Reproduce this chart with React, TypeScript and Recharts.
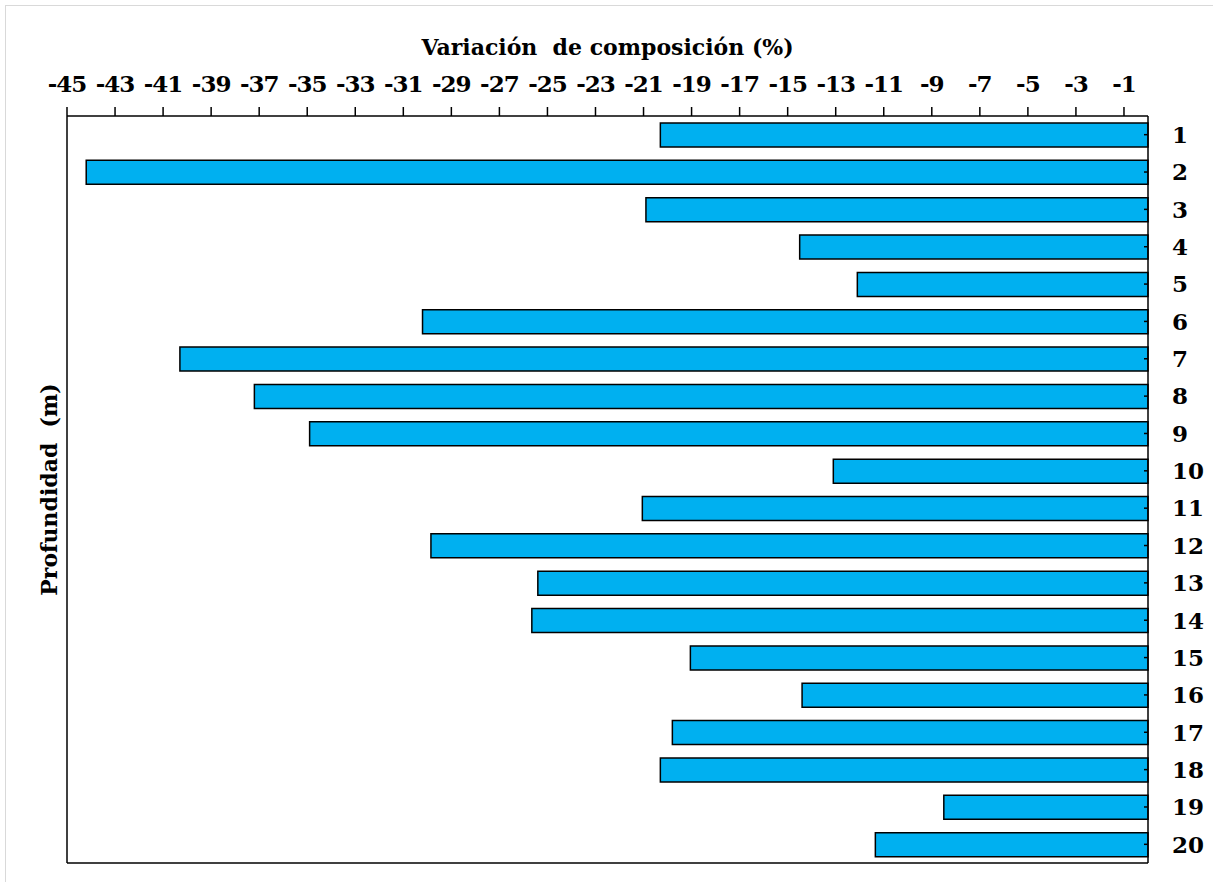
import { BarChart, Bar, XAxis, YAxis, Label } from "recharts"

// depth samples (m), top to bottom
const depths = ["1", "2", "3", "4", "5", "6", "7", "8", "9", "10", "11", "12", "13", "14", "15", "16", "17", "18", "19", "20"]

// composition change (%)
const variation = [
  -20.3, -44.2, -20.9, -14.5, -12.1, -30.2, -40.3, -37.2, -34.9, -13.1,
  -21.05, -29.85, -25.4, -25.65, -19.05, -14.4, -19.8, -20.3, -8.5, -11.35,
]

const xTicks = [-45, -43, -41, -39, -37, -35, -33, -31, -29, -27, -25, -23, -21, -19, -17, -15, -13, -11, -9, -7, -5, -3, -1]

const data = depths.map((d, i) => ({ depth: d, value: variation[i] }))

const FONT = "'DejaVu Serif', serif"
const FS = 23
const Y_TICK_MARGIN = 24

const DepthTick = (props: any) => {
  const { x, y, payload } = props
  const axisX = x - Y_TICK_MARGIN
  return (
    <g>
      <line x1={axisX - 4} y1={y} x2={axisX} y2={y} stroke="#000" strokeWidth={1.5} />
      <text x={x} y={y} dy="0.36em" textAnchor="start" style={{ fontFamily: FONT }} fontSize={FS} fontWeight="bold" fill="#000">
        {payload.value}
      </text>
    </g>
  )
}

export default function App() {
  return (
    <div style={{ position: "fixed", left: 0, top: 0, width: 1213, height: 882, overflow: "hidden", background: "#fff", fontFamily: FONT }}>
      <div
        style={{
          position: "absolute",
          left: 5,
          top: 5,
          width: 1230,
          height: 900,
          border: "1.5px solid #d9d9d9",
        }}
      />
      <div style={{ position: "absolute", left: 0, top: 0 }}>
        <BarChart
          width={1213}
          height={882}
          data={data}
          layout="vertical"
          margin={{ top: 76, right: 5, bottom: 18, left: 28 }}
          style={{ fontFamily: FONT }}
        >
          <XAxis
            xAxisId="top"
            type="number"
            orientation="top"
            domain={[-45, 0]}
            ticks={xTicks}
            interval={0}
            height={40}
            axisLine={{ stroke: "#000", strokeWidth: 1.5 }}
            tickLine={{ stroke: "#000", strokeWidth: 1.5 }}
            tickSize={9}
            tickMargin={15}
            tick={{ fill: "#000", fontSize: FS, fontWeight: "bold", style: { fontFamily: FONT, letterSpacing: -1 } }}
          >
            <Label
              content={({ viewBox }: any) => (
                <text
                  x={viewBox.x + viewBox.width / 2}
                  y={55}
                  textAnchor="middle"
                  fontSize={22}
                  fontWeight="bold"
                  fill="#000"
                  style={{ whiteSpace: "pre", fontFamily: FONT }}
                >
                  {"Variación  de composición (%)"}
                </text>
              )}
            />
          </XAxis>
          <XAxis
            xAxisId="bottom"
            type="number"
            orientation="bottom"
            domain={[-45, 0]}
            height={1}
            tick={false}
            tickLine={false}
            axisLine={{ stroke: "#000", strokeWidth: 1.5 }}
          />
          <YAxis
            yAxisId="right"
            type="category"
            dataKey="depth"
            orientation="right"
            width={60}
            interval={0}
            tickSize={0}
            tickMargin={Y_TICK_MARGIN}
            axisLine={{ stroke: "#000", strokeWidth: 1.5 }}
            tickLine={false}
            tick={<DepthTick />}
          />
          <YAxis
            yAxisId="left"
            type="category"
            dataKey="depth"
            orientation="left"
            width={39}
            tick={false}
            tickLine={false}
            axisLine={{ stroke: "#000", strokeWidth: 1.5 }}
          >
            <Label
              content={({ viewBox }: any) => {
                const cy = viewBox.y + viewBox.height / 2
                return (
                  <text
                    x={57}
                    y={cy}
                    transform={`rotate(-90 57 ${cy})`}
                    textAnchor="middle"
                    fontSize={22}
                    fontWeight="bold"
                    fill="#000"
                    style={{ whiteSpace: "pre", fontFamily: FONT }}
                  >
                    {"Profundidad  (m)"}
                  </text>
                )
              }}
            />
          </YAxis>
          <Bar
            xAxisId="top"
            yAxisId="right"
            dataKey="value"
            fill="#00B0F0"
            stroke="#000"
            strokeWidth={1.5}
            barSize={24}
            isAnimationActive={false}
          />
        </BarChart>
      </div>
    </div>
  )
}
